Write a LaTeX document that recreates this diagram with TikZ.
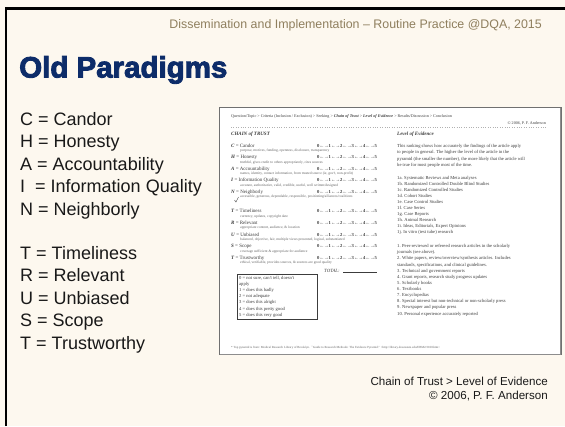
\documentclass[tikz,border=0pt]{standalone}
\usepackage{fontspec}
\setmainfont{Liberation Sans}
\newfontfamily\titlefont{Liberation Sans}[BoldFeatures={FakeBold=3}]
\newfontfamily\docfont{Liberation Serif}
\definecolor{bg}{HTML}{FDF8EF}
\definecolor{navy}{HTML}{0D2C69}
\definecolor{tan}{HTML}{8F7F5E}
\definecolor{doctext}{HTML}{3C3C3C}
\definecolor{docframe}{HTML}{707070}
\tikzset{
  listitem/.style={anchor=base west, inner sep=0, text=black!90, font=\fontsize{18}{20}\selectfont},
  doc/.style={anchor=base west, inner sep=0, text=doctext, font=\docfont\fontsize{4.6}{5}\selectfont},
  docsmall/.style={anchor=base west, inner sep=0, text=doctext!80, font=\docfont\fontsize{3.6}{4}\selectfont},
  docname/.style={anchor=base west, inner sep=0, text=doctext, font=\docfont\fontsize{5}{6}\selectfont},
  caption/.style={anchor=base east, inner sep=0, text=black!90, font=\fontsize{11.6}{14}\selectfont}
}
\begin{document}
\begin{tikzpicture}[x=1pt,y=-1pt]
\useasboundingbox (0,0) rectangle (565,426);
\fill[bg] (0,0) rectangle (565,426);
\draw[line width=2.5pt] (6,426) -- (6,8.5) -- (565,8.5);

% header and title
\node[anchor=base east, inner sep=0, text=tan, font=\fontsize{12.4}{14}\selectfont] (hdr) at (542,28)
  {Dissemination and Implementation – Routine Practice @DQA, 2015};
\node[anchor=base west, inner sep=0, text=navy, font=\titlefont\bfseries\fontsize{29.5}{34}\selectfont] (title) at (19,77.5) {Old Paradigms};

% left list
\node[listitem] (l1) at (20,125) {C = Candor};
\node[listitem] (l2) at (20,147.5) {H = Honesty};
\node[listitem] (l3) at (20,170) {A = Accountability};
\node[listitem] (l4) at (20,192.5) {I \ = Information Quality};
\node[listitem] (l5) at (20,215) {N = Neighborly};
\node[listitem] (l6) at (20,259) {T = Timeliness};
\node[listitem] (l7) at (20,281.5) {R = Relevant};
\node[listitem] (l8) at (20,304) {U = Unbiased};
\node[listitem] (l9) at (20,326.5) {S = Scope};
\node[listitem] (l10) at (20,349) {T = Trustworthy};

% embedded document
\fill[white] (219,107) rectangle (561,354);
\draw[docframe, line width=0.8pt] (219,107) rectangle (561,354);
\draw[docframe!80, line width=1.2pt] (560.6,107.5) -- (560.6,354.2) -- (219.5,354.2);

\node[doc, font=\docfont\fontsize{4.1}{5}\selectfont] (crumb) at (231,117)
  {Question/Topic > Criteria (Inclusion / Exclusion) > Seeking > \textbf{\textit{Chain of Trust}} > \textbf{\textit{Level of Evidence}} > Results/Discussion > Conclusion};
\node[doc, anchor=base east, font=\docfont\fontsize{4.1}{5}\selectfont] (copy) at (546,124) {© 2006, P. F. Anderson};
\coordinate (sep1) at (231,127);
\coordinate (sep2) at (546,127);
\draw[doctext!40, line width=0.4pt, dotted] (sep1) -- (sep2);

\node[doc, font=\docfont\bfseries\itshape\fontsize{5}{6}\selectfont] (cot) at (231,135.5) {CHAIN of TRUST};
\node[doc, font=\docfont\bfseries\itshape\fontsize{5}{6}\selectfont] (loe) at (397,135.5) {Level of Evidence};

% criteria
\foreach \n/\y/\L/\name/\desc in {
  c1/147/C/Candor/{purpose, motives, funding, openness, disclosure, transparency},
  c2/158.5/H/Honesty/{truthful, gives credit to others appropriately, cites sources},
  c3/170/A/Accountability/{names, identity, contact information, from trusted source (ie, gov't, non-profit)},
  c4/181.5/I/Information Quality/{accurate, authoritative, valid, credible, useful, well written/designed},
  c5/193/N/Neighborly/{accessible, generous, dependable, responsible, positioning/alliances/coalitions},
  c6/212.5/T/Timeliness/{currency, updates, copyright date},
  c7/224/R/Relevant/{appropriate content, audience, \& location},
  c8/236/U/Unbiased/{balanced, objective, fair, multiple views presented, logical, substantiated},
  c9/247.5/S/Scope/{coverage sufficient \& appropriate for audience},
  c10/259/T/Trustworthy/{ethical, verifiable, provides sources, \& sources are good quality}}{
  \node[docname] (\n name) at (231,\y) {\textbf{\textit{\L}} = \name};
  \node[docname, font=\docfont\fontsize{4.6}{5}\selectfont] (\n rate) at (317,\y) {\textbf{0}←→\textbf{1}←→\textbf{2}←→\textbf{3}←→\textbf{4}←→\textbf{5}};
  \node[docsmall] (\n desc) at (240,\y+4.8) {\desc};
}
\draw[doctext, line width=0.4pt] (234.5,200) -- (236,202) -- (238.5,197);

\node[docname, font=\docfont\itshape\fontsize{4.8}{6}\selectfont] (total) at (324,272) {TOTAL:};
\coordinate (tl1) at (343,272.5);
\coordinate (tl2) at (377,272.5);
\draw[doctext, line width=0.35pt] (tl1) -- (tl2);

\draw[doctext, line width=0.5pt] (237,274) rectangle (317,319);
\foreach \n/\y/\t in {k1/279/{0 = not sure, can't tell, doesn't},
  k2/285.2/apply, k3/291.4/{1 = does this badly}, k4/297.6/{2 = not adequate},
  k5/303.8/{3 = does this alright}, k6/310/{4 = does this pretty good},
  k7/316.2/{5 = does this very good}}{
  \node[doc] (\n) at (239,\y) {\t};
}

% right column
\foreach \n/\y/\t in {
  p1/147/{This ranking shows how accurately the findings of the article apply},
  p2/153.5/{to people in general. The higher the level of the article in the},
  p3/160/{pyramid (the smaller the number), the more likely that the article will},
  p4/166.5/{be true for most people most of the time.},
  e1/179/{1a. Systematic Reviews and Meta analyses},
  e2/185.1/{1b. Randomized Controlled Double Blind Studies},
  e3/191.2/{1c. Randomized Controlled Studies},
  e4/197.3/{1d. Cohort Studies},
  e5/203.4/{1e. Case Control Studies},
  e6/209.5/{1f. Case Series},
  e7/215.6/{1g. Case Reports},
  e8/221.7/{1h. Animal Research},
  e9/227.8/{1i. Ideas, Editorials, Expert Opinions},
  e10/233.9/{1j. In vitro (test tube) research},
  s1/247/{1. Peer-reviewed or refereed research articles in the scholarly},
  s2/253/{journals (see above).},
  s3/259.5/{2. White papers, review/overview/synthesis articles. Includes},
  s4/266/{standards, specifications, and clinical guidelines.},
  s5/272/{3. Technical and government reports},
  s6/278/{4. Grant reports, research study progress updates},
  s7/284/{5. Scholarly books},
  s8/290/{6. Textbooks},
  s9/296/{7. Encyclopedias},
  s10/302/{8. Special interest but non-technical or non-scholarly press},
  s11/308.5/{9. Newspaper and popular press},
  s12/315/{10. Personal experience accurately reported}}{
  \node[doc] (\n) at (397,\y) {\t};
}

\node[docsmall, font=\docfont\fontsize{3.1}{4}\selectfont] (foot) at (231,348)
  {* Top pyramid is from: Medical Research Library of Brooklyn. ``Guide to Research Methods: The Evidence Pyramid.'' <http://library.downstate.edu/EBM2/2100.htm>};

% caption
\node[caption] (cap1) at (548,385) {Chain of Trust > Level of Evidence};
\node[caption] (cap2) at (548,399.5) {© 2006, P. F. Anderson};
\end{tikzpicture}
\end{document}
